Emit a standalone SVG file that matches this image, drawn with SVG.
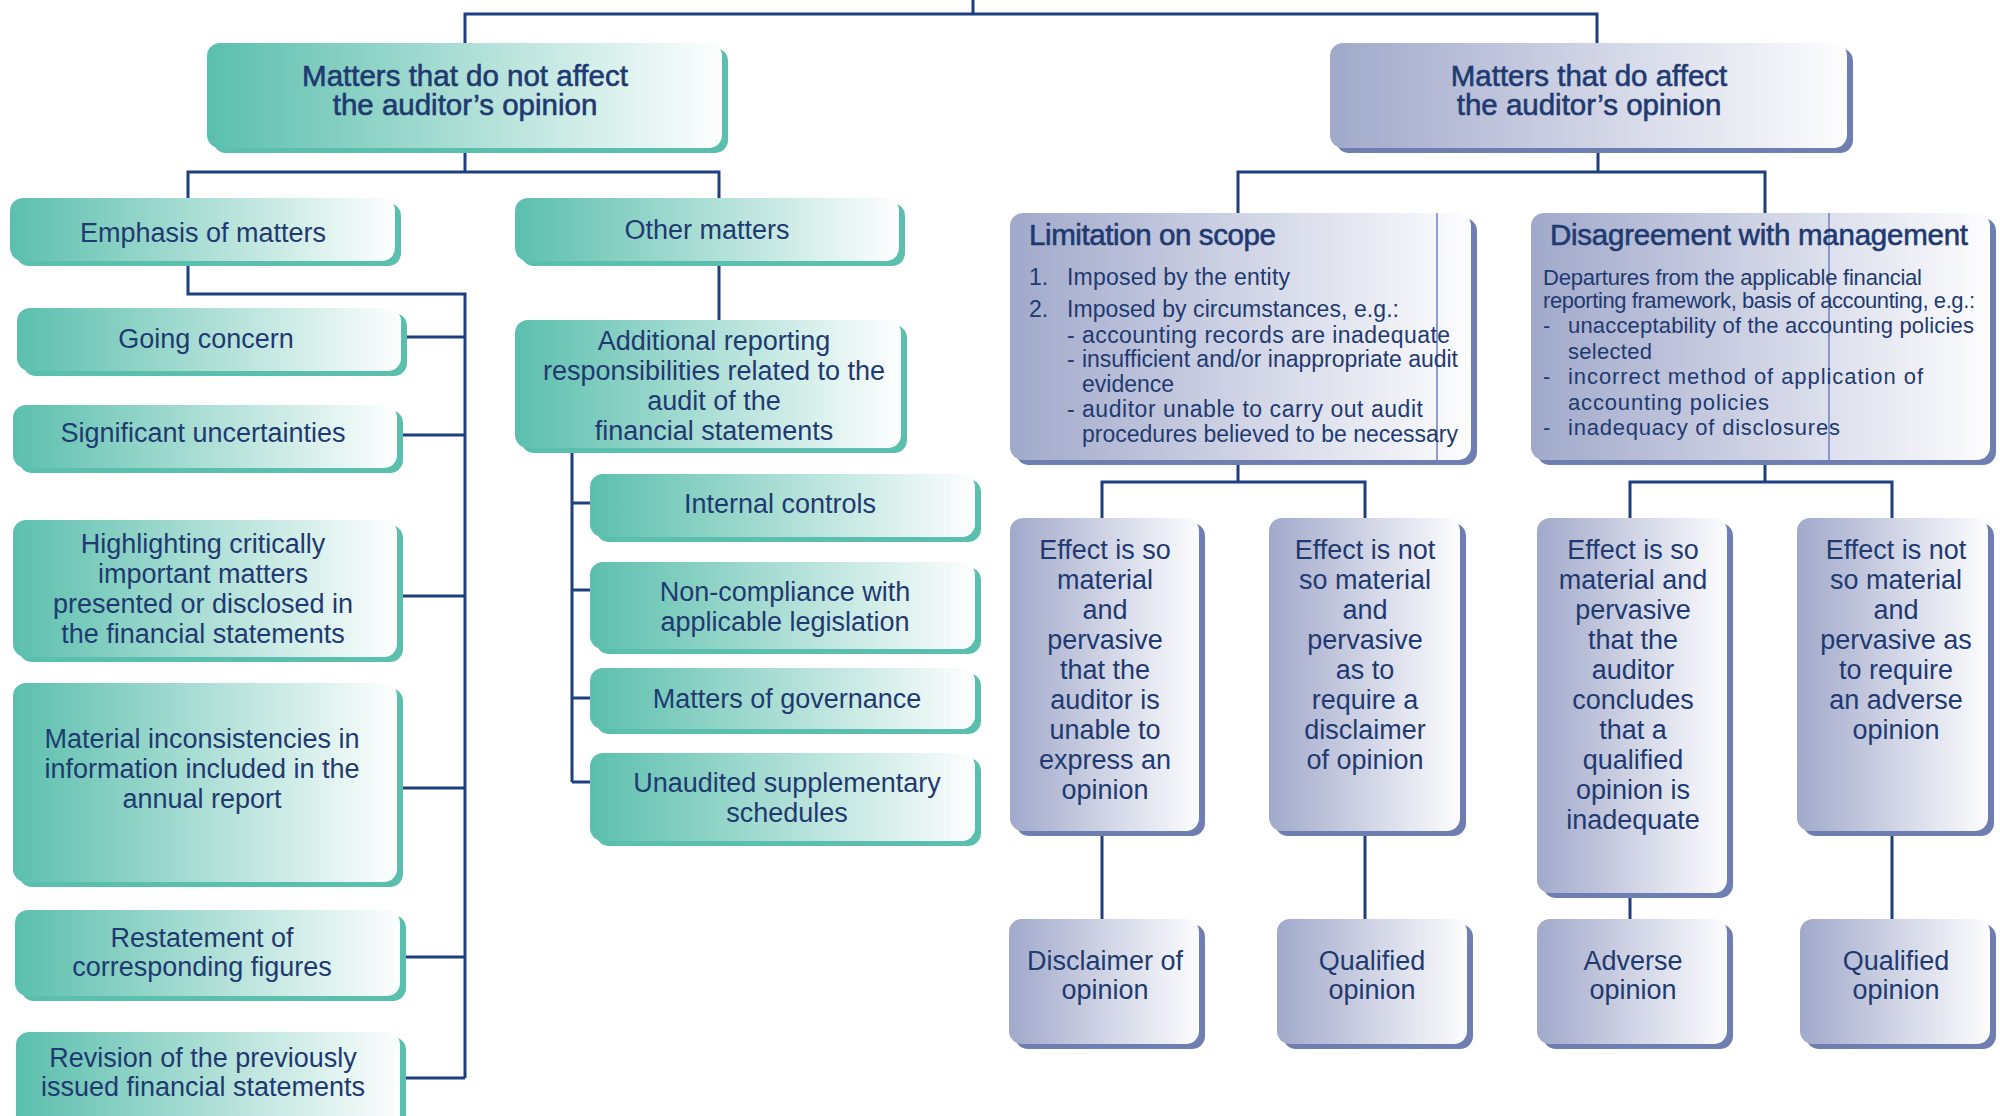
<svg xmlns="http://www.w3.org/2000/svg" width="2000" height="1116" viewBox="0 0 2000 1116">
<defs>
<linearGradient id="gt" x1="0" y1="0" x2="1" y2="0"><stop offset="0" stop-color="#5bbfad"/><stop offset="1" stop-color="#fdfefe"/></linearGradient>
<linearGradient id="gb" x1="0" y1="0" x2="1" y2="0"><stop offset="0" stop-color="#a1a9cb"/><stop offset="1" stop-color="#fdfdfe"/></linearGradient>
<style>
.ts{fill:#5bbfad}.bs{fill:#6f7eb0}
.tf{fill:url(#gt)}.bf{fill:url(#gb)}
text{font-family:"Liberation Sans",Arial,sans-serif;fill:#1f3a70}
.c{text-anchor:middle;font-size:27px}
.h{font-size:29.5px;stroke:#1f3a70;stroke-width:0.6}
.s{font-size:23px}
.d{font-size:22px}
.conn{fill:none;stroke:#1e3f7e;stroke-width:3}
.thin{stroke:#6d7fc0;stroke-width:1.5}
</style>
</defs>
<rect width="2000" height="1116" fill="#ffffff"/>
<g id="connectors" class="conn">
<path d="M973,0V14M465,43V14H1597V43"/>
<path d="M465,153V172M188,198V172H719V198"/>
<path d="M188,266V294H465V1078"/>
<path d="M407,337H465M403,435H465M403,596H465M403,788H465M406,957H465M406,1078H465"/>
<path d="M719,266V320"/>
<path d="M572,453V782M572,503H590M572,590H590M572,698H590M572,782H590"/>
<path d="M1598,153V172M1238,213V172H1765V213"/>
<path d="M1238,465V482M1102,518V482H1365V518"/>
<path d="M1765,465V482M1630,518V482H1892V518"/>
<path d="M1102,836V919M1365,836V919M1630,898V919M1892,836V919"/>
</g>
<g id="n-notaffect"><rect class="ts" x="213" y="48" width="515" height="105" rx="13"/><rect class="tf" x="207" y="43" width="515" height="105" rx="13"/>
<text class="c h" x="465" y="86">Matters that do not affect</text><text class="c h" x="465" y="115">the auditor’s opinion</text></g>
<g id="n-emphasis"><rect class="ts" x="16" y="203" width="385" height="63" rx="13"/><rect class="tf" x="10" y="198" width="385" height="63" rx="13"/>
<text class="c" x="203" y="242">Emphasis of matters</text></g>
<g id="n-other"><rect class="ts" x="521" y="203" width="384" height="63" rx="13"/><rect class="tf" x="515" y="198" width="384" height="63" rx="13"/>
<text class="c" x="707" y="239">Other matters</text></g>
<g id="n-going"><rect class="ts" x="23" y="313" width="384" height="63" rx="13"/><rect class="tf" x="17" y="308" width="384" height="63" rx="13"/>
<text class="c" x="206" y="348">Going concern</text></g>
<g id="n-significant"><rect class="ts" x="19" y="410" width="384" height="63" rx="13"/><rect class="tf" x="13" y="405" width="384" height="63" rx="13"/>
<text class="c" x="203" y="442">Significant uncertainties</text></g>
<g id="n-highlighting"><rect class="ts" x="19" y="525" width="384" height="137" rx="13"/><rect class="tf" x="13" y="520" width="384" height="137" rx="13"/>
<text class="c" x="203" y="553">Highlighting critically</text><text class="c" x="203" y="583">important matters</text><text class="c" x="203" y="613">presented or disclosed in</text><text class="c" x="203" y="643">the financial statements</text></g>
<g id="n-material"><rect class="ts" x="19" y="688" width="384" height="199" rx="13"/><rect class="tf" x="13" y="683" width="384" height="199" rx="13"/>
<text class="c" x="202" y="748">Material inconsistencies in</text><text class="c" x="202" y="778">information included in the</text><text class="c" x="202" y="808">annual report</text></g>
<g id="n-restatement"><rect class="ts" x="21" y="915" width="385" height="86" rx="13"/><rect class="tf" x="15" y="910" width="385" height="86" rx="13"/>
<text class="c" x="202" y="947">Restatement of</text><text class="c" x="202" y="976">corresponding figures</text></g>
<g id="n-revision"><rect class="ts" x="22" y="1037" width="384" height="100" rx="13"/><rect class="tf" x="16" y="1032" width="384" height="100" rx="13"/>
<text class="c" x="203" y="1067">Revision of the previously</text><text class="c" x="203" y="1096">issued financial statements</text></g>
<g id="n-additional"><rect class="ts" x="521" y="325" width="386" height="128" rx="13"/><rect class="tf" x="515" y="320" width="386" height="128" rx="13"/>
<text class="c" x="714" y="350">Additional reporting</text><text class="c" x="714" y="380">responsibilities related to the</text><text class="c" x="714" y="410">audit of the</text><text class="c" x="714" y="440">financial statements</text></g>
<g id="n-internal"><rect class="ts" x="596" y="479" width="385" height="63" rx="13"/><rect class="tf" x="590" y="474" width="385" height="63" rx="13"/>
<text class="c" x="780" y="513">Internal controls</text></g>
<g id="n-noncompliance"><rect class="ts" x="596" y="567" width="385" height="87" rx="13"/><rect class="tf" x="590" y="562" width="385" height="87" rx="13"/>
<text class="c" x="785" y="601">Non-compliance with</text><text class="c" x="785" y="631">applicable legislation</text></g>
<g id="n-governance"><rect class="ts" x="596" y="673" width="385" height="61" rx="13"/><rect class="tf" x="590" y="668" width="385" height="61" rx="13"/>
<text class="c" x="787" y="708">Matters of governance</text></g>
<g id="n-unaudited"><rect class="ts" x="596" y="758" width="385" height="88" rx="13"/><rect class="tf" x="590" y="753" width="385" height="88" rx="13"/>
<text class="c" x="787" y="792">Unaudited supplementary</text><text class="c" x="787" y="822">schedules</text></g>
<g id="n-affect"><rect class="bs" x="1336" y="48" width="517" height="105" rx="13"/><rect class="bf" x="1330" y="43" width="517" height="105" rx="13"/>
<text class="c h" x="1589" y="86">Matters that do affect</text><text class="c h" x="1589" y="115">the auditor’s opinion</text></g>
<g id="n-limitation"><rect class="bs" x="1016" y="218" width="461" height="247" rx="13"/><rect class="bf" x="1010" y="213" width="461" height="247" rx="13"/>
<line class="thin" x1="1437" y1="213" x2="1437" y2="460"/>
<text class="h" x="1029" y="245" textLength="247">Limitation on scope</text>
<text class="s" x="1029" y="285">1.</text><text class="s" x="1067" y="285" textLength="223">Imposed by the entity</text>
<text class="s" x="1029" y="317">2.</text><text class="s" x="1067" y="317" textLength="332">Imposed by circumstances, e.g.:</text>
<text class="s" x="1067" y="343">-</text><text class="s" x="1082" y="343" textLength="368">accounting records are inadequate</text>
<text class="s" x="1067" y="367">-</text><text class="s" x="1082" y="367" textLength="376">insufficient and/or inappropriate audit</text>
<text class="s" x="1082" y="392">evidence</text>
<text class="s" x="1067" y="417">-</text><text class="s" x="1082" y="417" textLength="341">auditor unable to carry out audit</text>
<text class="s" x="1082" y="442" textLength="376">procedures believed to be necessary</text></g>
<g id="n-disagreement"><rect class="bs" x="1537" y="218" width="459" height="247" rx="13"/><rect class="bf" x="1531" y="213" width="459" height="247" rx="13"/>
<line class="thin" x1="1829" y1="213" x2="1829" y2="460"/>
<text class="h" x="1550" y="245" textLength="418">Disagreement with management</text>
<text class="d" x="1543" y="285" textLength="379">Departures from the applicable financial</text>
<text class="d" x="1543" y="308" textLength="432">reporting framework, basis of accounting, e.g.:</text>
<text class="d" x="1543" y="333">-</text><text class="d" x="1568" y="333" textLength="406">unacceptability of the accounting policies</text>
<text class="d" x="1568" y="359" textLength="84">selected</text>
<text class="d" x="1543" y="384">-</text><text class="d" x="1568" y="384" textLength="355">incorrect method of application of</text>
<text class="d" x="1568" y="410" textLength="201">accounting policies</text>
<text class="d" x="1543" y="435">-</text><text class="d" x="1568" y="435" textLength="272">inadequacy of disclosures</text></g>
<g id="n-effect1"><rect class="bs" x="1016" y="523" width="189" height="313" rx="13"/><rect class="bf" x="1010" y="518" width="189" height="313" rx="13"/>
<text class="c" x="1105" y="559">Effect is so</text><text class="c" x="1105" y="589">material</text><text class="c" x="1105" y="619">and</text><text class="c" x="1105" y="649">pervasive</text><text class="c" x="1105" y="679">that the</text><text class="c" x="1105" y="709">auditor is</text><text class="c" x="1105" y="739">unable to</text><text class="c" x="1105" y="769">express an</text><text class="c" x="1105" y="799">opinion</text></g>
<g id="n-effect2"><rect class="bs" x="1275" y="523" width="191" height="313" rx="13"/><rect class="bf" x="1269" y="518" width="191" height="313" rx="13"/>
<text class="c" x="1365" y="559">Effect is not</text><text class="c" x="1365" y="589">so material</text><text class="c" x="1365" y="619">and</text><text class="c" x="1365" y="649">pervasive</text><text class="c" x="1365" y="679">as to</text><text class="c" x="1365" y="709">require a</text><text class="c" x="1365" y="739">disclaimer</text><text class="c" x="1365" y="769">of opinion</text></g>
<g id="n-effect3"><rect class="bs" x="1543" y="523" width="190" height="375" rx="13"/><rect class="bf" x="1537" y="518" width="190" height="375" rx="13"/>
<text class="c" x="1633" y="559">Effect is so</text><text class="c" x="1633" y="589">material and</text><text class="c" x="1633" y="619">pervasive</text><text class="c" x="1633" y="649">that the</text><text class="c" x="1633" y="679">auditor</text><text class="c" x="1633" y="709">concludes</text><text class="c" x="1633" y="739">that a</text><text class="c" x="1633" y="769">qualified</text><text class="c" x="1633" y="799">opinion is</text><text class="c" x="1633" y="829">inadequate</text></g>
<g id="n-effect4"><rect class="bs" x="1803" y="523" width="191" height="313" rx="13"/><rect class="bf" x="1797" y="518" width="191" height="313" rx="13"/>
<text class="c" x="1896" y="559">Effect is not</text><text class="c" x="1896" y="589">so material</text><text class="c" x="1896" y="619">and</text><text class="c" x="1896" y="649">pervasive as</text><text class="c" x="1896" y="679">to require</text><text class="c" x="1896" y="709">an adverse</text><text class="c" x="1896" y="739">opinion</text></g>
<g id="n-op1"><rect class="bs" x="1015" y="924" width="190" height="125" rx="13"/><rect class="bf" x="1009" y="919" width="190" height="125" rx="13"/>
<text class="c" x="1105" y="970">Disclaimer of</text><text class="c" x="1105" y="999">opinion</text></g>
<g id="n-op2"><rect class="bs" x="1283" y="924" width="190" height="125" rx="13"/><rect class="bf" x="1277" y="919" width="190" height="125" rx="13"/>
<text class="c" x="1372" y="970">Qualified</text><text class="c" x="1372" y="999">opinion</text></g>
<g id="n-op3"><rect class="bs" x="1543" y="924" width="190" height="125" rx="13"/><rect class="bf" x="1537" y="919" width="190" height="125" rx="13"/>
<text class="c" x="1633" y="970">Adverse</text><text class="c" x="1633" y="999">opinion</text></g>
<g id="n-op4"><rect class="bs" x="1806" y="924" width="190" height="125" rx="13"/><rect class="bf" x="1800" y="919" width="190" height="125" rx="13"/>
<text class="c" x="1896" y="970">Qualified</text><text class="c" x="1896" y="999">opinion</text></g>
</svg>
